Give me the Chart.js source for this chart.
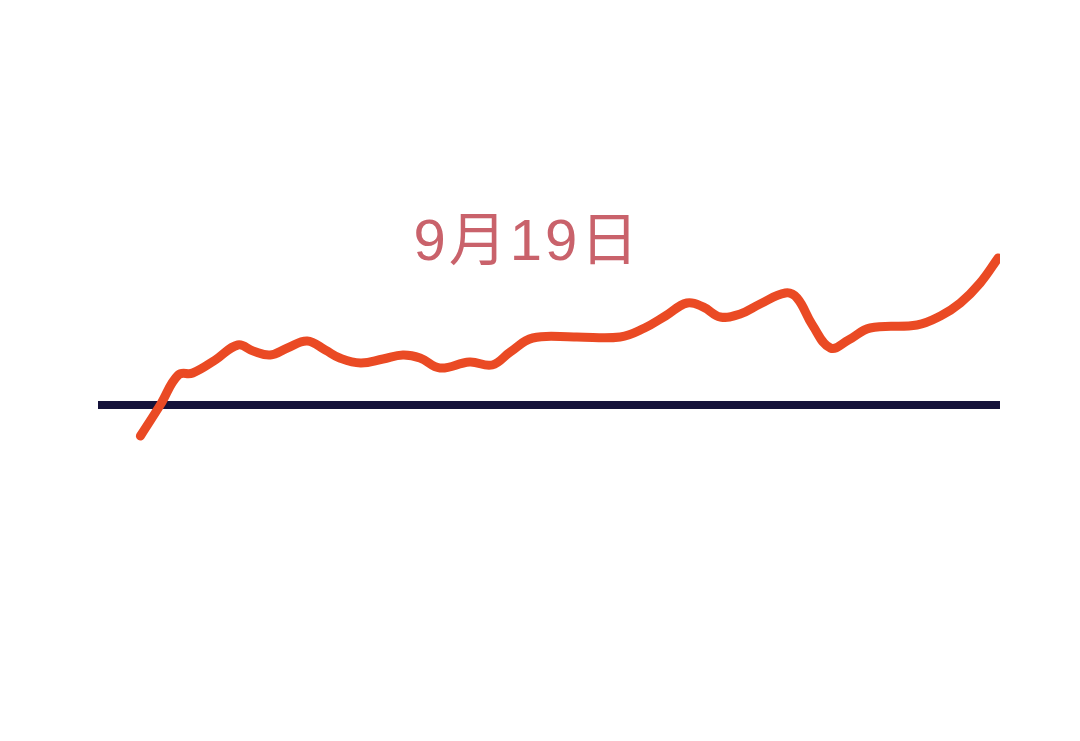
<!DOCTYPE html>
<html>
<head>
<meta charset="utf-8">
<script src="https://cdn.jsdelivr.net/npm/chart.js@4"></script>
<style>
  html, body { margin: 0; padding: 0; background: #fff; }
  #wrap { width: 1080px; height: 741px; position: relative; }
</style>
</head>
<body>
<div id="wrap"><canvas id="chart"></canvas></div>
<script>
// positions along the day (0..100) and level relative to the baseline
const times = [4.7, 6.9, 8.9, 10.5, 13.0, 15.5, 17.2, 19.1, 21.0, 23.2, 25.2, 26.8, 29.1, 31.6, 33.8, 35.7, 37.9, 41.2, 43.7, 45.7, 48.2, 52.9, 57.9, 60.6, 62.9, 65.3, 67.1, 69.0, 71.2, 73.4, 76.2, 77.5, 79.2, 81.2, 83.2, 85.6, 90.8, 93.4, 95.6, 97.8, 99.8];
const levels = [-3.1, 0.0, 3.0, 3.2, 4.5, 6.0, 5.4, 5.0, 5.7, 6.4, 5.5, 4.7, 4.2, 4.6, 5.0, 4.7, 3.7, 4.3, 4.0, 5.3, 6.7, 6.8, 6.8, 7.7, 8.9, 10.2, 9.8, 8.8, 9.1, 10.1, 11.2, 10.7, 8.0, 5.7, 6.5, 7.7, 8.0, 8.9, 10.2, 12.2, 14.7];
const baseTimes = [0, 100];
const baseLevels = [0, 0];
const titleText = "9月19日";

const titlePlugin = {
  id: "dayTitle",
  afterDraw(chart) {
    const { ctx, scales } = chart;
    ctx.save();
    ctx.font = '58px "Liberation Sans", "Noto Sans CJK SC", sans-serif';
    ctx.letterSpacing = "3px";
    ctx.fillStyle = "#c9626b";
    ctx.textAlign = "center";
    ctx.textBaseline = "middle";
    ctx.fillText(titleText, scales.x.getPixelForValue(47.6), scales.y.getPixelForValue(16.1));
    ctx.restore();
  }
};

new Chart(document.getElementById("chart"), {
  type: "line",
  data: {
    datasets: [
      {
        label: "走势",
        data: times.map((t, i) => ({ x: t, y: levels[i] })),
        borderColor: "#ea4a24",
        borderWidth: 9,
        borderCapStyle: "round",
        borderJoinStyle: "round",
        tension: 0.4,
        pointRadius: 0,
        fill: false,
        order: 1
      },
      {
        label: "基准",
        data: baseTimes.map((t, i) => ({ x: t, y: baseLevels[i] })),
        borderColor: "#15123a",
        borderWidth: 8,
        borderCapStyle: "round",
        pointRadius: 0,
        fill: false,
        order: 2
      }
    ]
  },
  options: {
    responsive: true,
    maintainAspectRatio: false,
    animation: false,
    layout: {
      autoPadding: false,
      padding: { left: 98, right: 80, top: 205, bottom: 236 }
    },
    plugins: {
      legend: { display: false },
      tooltip: { enabled: false }
    },
    scales: {
      x: { type: "linear", min: 0, max: 100, display: false },
      y: { type: "linear", min: -10, max: 20, display: false }
    }
  },
  plugins: [titlePlugin]
});
</script>
</body>
</html>
